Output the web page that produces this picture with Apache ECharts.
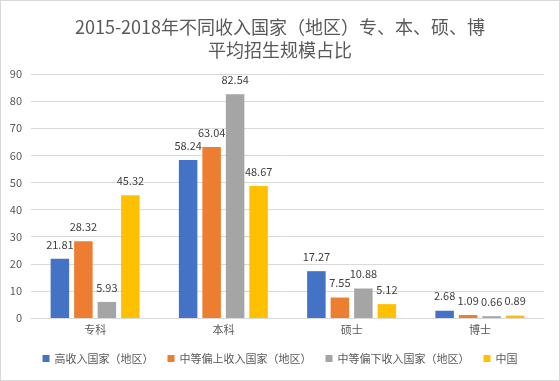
<!DOCTYPE html>
<html><head><meta charset="utf-8">
<script src="https://cdn.jsdelivr.net/npm/echarts@6/dist/echarts.min.js"></script>
<style>
html,body{margin:0;padding:0;background:#fff;}
#c{width:558px;height:379px;border:1px solid #d9d9d9;}
</style></head>
<body><div id="c"></div>
<script>
const categories = ['专科','本科','硕士','博士'];
const seriesNames = ['高收入国家（地区）','中等偏上收入国家（地区）','中等偏下收入国家（地区）','中国'];
const highIncome = [21.81, 58.24, 17.27, 2.68];
const upperMiddle = [28.32, 63.04, 7.55, 1.09];
const lowerMiddle = [5.93, 82.54, 10.88, 0.66];
const china = [45.32, 48.67, 5.12, 0.89];
const colors = ['#4472c4','#ed7d31','#a5a5a5','#ffc000'];
const values = [highIncome, upperMiddle, lowerMiddle, china];
const font = '"Noto Sans CJK SC", sans-serif';
const chart = echarts.init(document.getElementById('c'));
chart.setOption({
  animation:false,
  textStyle:{fontFamily:font},
  title:{text:'2015-2018年不同收入国家（地区）专、本、硕、博\n平均招生规模占比', left:'center', top:10,
    textStyle:{fontSize:18, fontWeight:'normal', color:'#595959', fontFamily:font, lineHeight:23}},
  legend:{bottom:11, itemWidth:7, itemHeight:7, itemGap:14, icon:'rect',
    textStyle:{fontSize:11, color:'#595959', fontFamily:font}},
  grid:{left:30, right:15, top:73, bottom:62},
  xAxis:{type:'category', data:categories,
    axisLine:{lineStyle:{color:'#d9d9d9'}}, axisTick:{show:false},
    axisLabel:{fontSize:11, color:'#595959', fontFamily:font, margin:6}},
  yAxis:{type:'value', min:0, max:90, interval:10,
    axisLine:{show:false}, axisTick:{show:false},
    splitLine:{lineStyle:{color:'#d9d9d9'}},
    axisLabel:{fontSize:11, color:'#595959', fontFamily:font, margin:9, align:'right'}},
  series: seriesNames.map((n,i)=>({
    name:n, type:'bar', data:values[i], barWidth:18.5, barGap:'27%',
    itemStyle:{color:colors[i]},
    label:{show:true, position:'top', distance:9, fontSize:11, color:'#404040', fontFamily:font}
  }))
});
</script></body></html>
